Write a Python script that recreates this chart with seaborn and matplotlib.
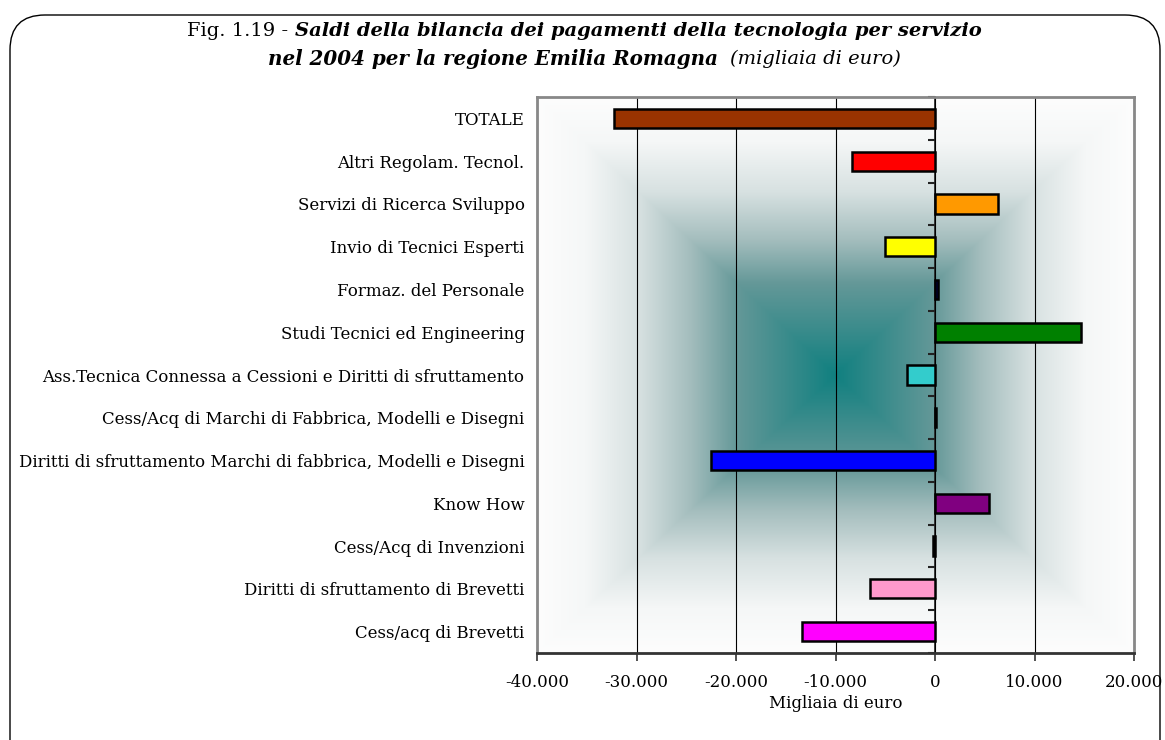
import numpy as np
import pandas as pd
import matplotlib
matplotlib.use("Agg")
import matplotlib.pyplot as plt
import seaborn as sns
from matplotlib.patches import FancyBboxPatch
from matplotlib.ticker import FuncFormatter

categories = [
    "TOTALE",
    "Altri Regolam. Tecnol.",
    "Servizi di Ricerca Sviluppo",
    "Invio di Tecnici Esperti",
    "Formaz. del Personale",
    "Studi Tecnici ed Engineering",
    "Ass.Tecnica Connessa a Cessioni e Diritti di sfruttamento",
    "Cess/Acq di Marchi di Fabbrica, Modelli e Disegni",
    "Diritti di sfruttamento Marchi di fabbrica, Modelli e Disegni",
    "Know How",
    "Cess/Acq di Invenzioni",
    "Diritti di sfruttamento di Brevetti",
    "Cess/acq di Brevetti",
]
values = [-32300, -8350, 6300, -5000, 300, 14650, -2850, 80, -22500, 5400, -200, -6550, -13400]
colors = ["#993300", "#FF0000", "#FF9900", "#FFFF00", "#000080", "#008000", "#33CCCC",
          "#808000", "#0000FF", "#800080", "#000000", "#FF99CC", "#FF00FF"]
xticks = [-40000, -30000, -20000, -10000, 0, 10000, 20000]

df = pd.DataFrame({"category": categories, "value": values})

sns.set_theme(style="white")
plt.rcParams["font.family"] = ["DejaVu Serif"]
plt.rcParams["text.color"] = "black"
plt.rcParams["xtick.color"] = "black"
plt.rcParams["ytick.color"] = "black"
plt.rcParams["axes.labelcolor"] = "black"

W, H = 1165, 740
fig = plt.figure(figsize=(W / 100, H / 100), dpi=100)
ax = fig.add_axes([537 / W, 1 - 653 / H, (1134 - 537) / W, (653 - 97) / H])

# rectangular "from centre" gradient background
nx, ny = 600, 560
X, Y = np.meshgrid(np.linspace(-1, 1, nx), np.linspace(-1, 1, ny))
t = np.clip(np.maximum(np.abs(X), np.abs(Y)), 0, 1)
tp = [0.0, 0.17, 0.33, 0.49, 0.66, 0.84, 1.0]
rp = [16, 60, 100, 165, 215, 245, 253]
gp = [128, 140, 152, 190, 225, 247, 253]
img = np.dstack([np.interp(t, tp, rp), np.interp(t, tp, gp), np.interp(t, tp, gp)]) / 255.0
ax.imshow(img, extent=[xticks[0], xticks[-1], len(categories) - 0.5, -0.5],
          aspect="auto", zorder=0, interpolation="bilinear")

sns.barplot(data=df, x="value", y="category", hue="category", order=categories,
            palette=dict(zip(categories, colors)), saturation=1, width=0.45,
            edgecolor="black", linewidth=1.8, legend=False, ax=ax, zorder=3)

ax.set_xlim(xticks[0], xticks[-1])
ax.set_ylim(len(categories) - 0.5, -0.5)
ax.set_xticks(xticks)
ax.xaxis.set_major_formatter(FuncFormatter(lambda v, p: f"{int(v):,}".replace(",", ".")))
ax.grid(axis="x", color="black", linewidth=0.8)
ax.grid(axis="y", visible=False)
ax.tick_params(axis="x", direction="out", length=6, width=1.2, color="#333333",
               pad=9, labelsize=12, bottom=True)
ax.tick_params(axis="y", length=0, pad=9, labelsize=12)
ax.set_ylabel("")
ax.set_xlabel("Migliaia di euro", fontsize=12, labelpad=3)
for s in ["left", "right", "top"]:
    ax.spines[s].set_color("#888888")
    ax.spines[s].set_linewidth(2)
ax.spines["bottom"].set_color("#333333")
ax.spines["bottom"].set_linewidth(2)

# category axis crossing at zero
sec = ax.secondary_yaxis((0 - xticks[0]) / (xticks[-1] - xticks[0]))
sec.set_yticks(np.arange(-0.5, len(categories), 1.0))
sec.tick_params(axis="y", direction="in", length=5, width=1.5, color="#222222",
                labelleft=False, labelright=False)
sec.spines["left"].set_color("black")
sec.spines["left"].set_linewidth(1)

# rounded frame
frame = FancyBboxPatch((10 / W, -0.2), 1150 / W, 1.2 - 15 / H,
                       boxstyle="round,pad=0,rounding_size=0.03",
                       mutation_aspect=W / H, transform=fig.transFigure,
                       facecolor="none", edgecolor="black", linewidth=1.0)
fig.patches.append(frame)

# title composed of pieces
def centered_line(pieces, y_px, xc_px, gap_px=0):
    texts = [fig.text(0, 1 - y_px / H, s, va="center", ha="left", fontsize=fs,
                      fontstyle=st, fontweight=wt) for s, fs, st, wt in pieces]
    fig.canvas.draw()
    r = fig.canvas.get_renderer()
    widths = [tx.get_window_extent(r).width for tx in texts]
    total = sum(widths) + gap_px * (len(texts) - 1)
    x = xc_px - total / 2
    for tx, w in zip(texts, widths):
        tx.set_x(x / W)
        x += w + gap_px

centered_line([("Fig. 1.19 -", 14, "normal", "normal"),
               ("Saldi della bilancia dei pagamenti della tecnologia per servizio", 14, "italic", "bold")],
              31, 584, gap_px=7)
centered_line([("nel 2004 per la regione Emilia Romagna", 14.3, "italic", "bold"),
               ("(migliaia di euro)", 14, "italic", "normal")],
              59, 584, gap_px=12)

fig.savefig("out.png", dpi=100)
